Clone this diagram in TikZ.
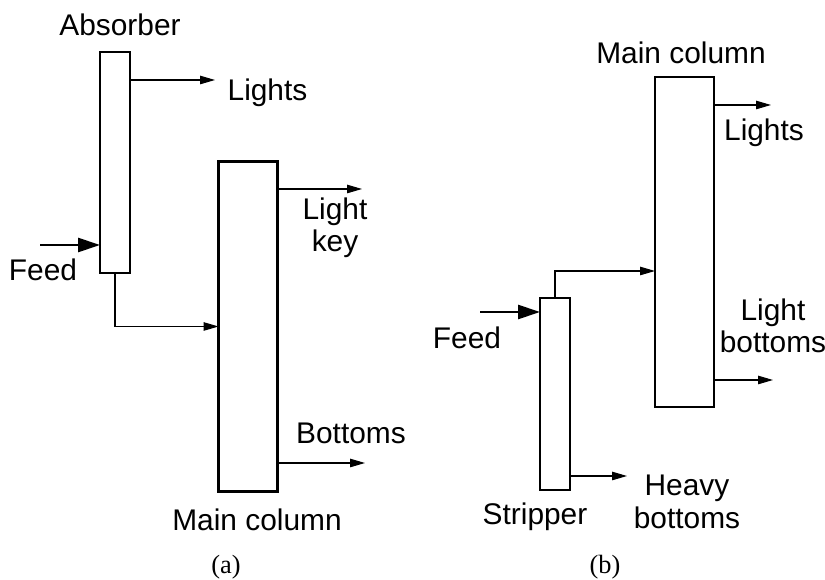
\documentclass[tikz,border=0pt]{standalone}
\usepackage{fontspec}
\setmainfont{Liberation Sans}
\newfontfamily\capfont{Liberation Serif}
\usetikzlibrary{arrows.meta,positioning}

\begin{document}
\begin{tikzpicture}[font=\fontsize{17pt}{18.5pt}\selectfont,
  thinarr/.style={-{Triangle[length=0.3cm,width=0.17cm]}, line width=0.6pt},
  feedarr/.style={-{Triangle[length=0.44cm,width=0.28cm]}, line width=1.6pt},
  col/.style={draw, line width=0.6pt, inner sep=0pt, outer sep=0pt, minimum width=0.6cm},
  maincol/.style={draw, line width=1.7pt, inner sep=0pt, outer sep=0pt, minimum width=1.18cm, minimum height=6.6cm},
  lbl/.style={align=center, inner sep=0pt}]
\useasboundingbox (0,0) rectangle (16.5,11.6);
% LEFT: absorber + main column
\node[col, minimum height=4.42cm] (abs) at (2.30,8.35) {};
\node[maincol] (mca) at (4.96,5.07) {};
\node[lbl] (absl) at (2.40,11.10) {Absorber};
\node[lbl] (mcal) at (5.14,1.20) {Main column};
\coordinate (lta) at (4.30,10.0);
\coordinate (fda) at (0.80,6.70);
\coordinate (lka) at (7.24,7.82);
\coordinate (bta) at (7.30,2.34);
\draw[thinarr] (abs.east |- lta) -- (lta);
\draw[feedarr] (fda) -- (abs.west |- fda);
\draw[thinarr] (abs.south) |- (mca.west);
\draw[thinarr] (mca.east |- lka) -- (lka);
\draw[thinarr] (mca.east |- bta) -- (bta);
\node[lbl] (ltal) at (5.35,9.74) {Lights};
\node[lbl] (fdal) at (0.86,6.20) {Feed};
\node[lbl] (lkal) at (6.70,7.04) {Light\\key};
\node[lbl] (btal) at (7.02,2.94) {Bottoms};
\node[lbl, font=\capfont\fontsize{15pt}{17pt}\selectfont] (capa) at (4.52,0.26) {(a)};
% RIGHT: stripper + main column
\node[col, minimum height=3.84cm] (str) at (11.10,3.72) {};
\node[maincol] (mcb) at (13.69,6.76) {};
\node[lbl] (mcbl) at (13.62,10.54) {Main column};
\node[lbl] (strl) at (10.70,1.26) {Stripper};
\coordinate (ltb) at (15.42,9.50);
\coordinate (lbb) at (15.46,4.00);
\coordinate (fdb) at (9.60,5.36);
\coordinate (hbb) at (12.54,2.08);
\draw[thinarr] (mcb.east |- ltb) -- (ltb);
\draw[thinarr] (mcb.east |- lbb) -- (lbb);
\draw[feedarr] (fdb) -- (str.west |- fdb);
\draw[thinarr] (str.north) |- ([yshift=-0.58cm]mcb.west);
\draw[thinarr] (str.east |- hbb) -- (hbb);
\node[lbl] (ltbl) at (15.28,8.94) {Lights};
\node[lbl] (lbbl) at (15.46,5.08) {Light\\bottoms};
\node[lbl] (fdbl) at (9.34,4.84) {Feed};
\node[lbl] (hbbl) at (13.74,1.56) {Heavy\\bottoms};
\node[lbl, font=\capfont\fontsize{15pt}{17pt}\selectfont] (capb) at (12.10,0.26) {(b)};
\end{tikzpicture}
\end{document}
